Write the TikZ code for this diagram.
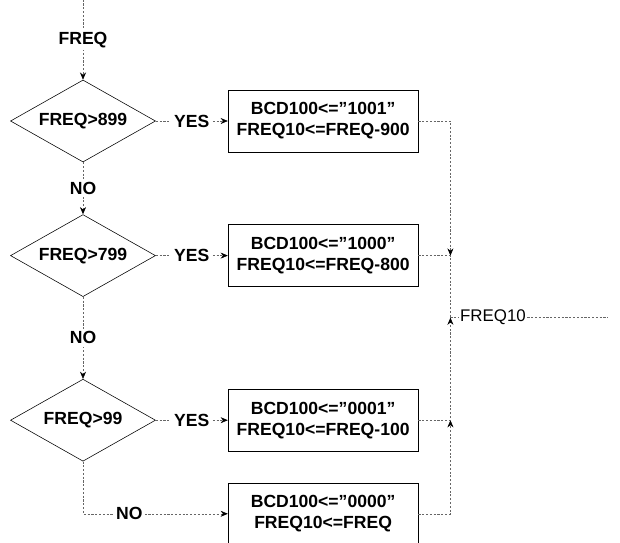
\documentclass[tikz,border=0pt]{standalone}
\usepackage{fontspec}
\setmainfont{Liberation Sans}
\usetikzlibrary{positioning,arrows.meta,shapes.geometric}

\begin{document}
\begin{tikzpicture}[
    x=0.025cm, y=-0.025cm,
    node distance=13mm and 18mm,
    >={Stealth[length=1.8mm,width=1.5mm,color=black]},
    font=\fontsize{12.5}{15}\selectfont\bfseries,
    test/.style={draw, diamond, aspect=1.77, inner sep=0pt, minimum width=36.25mm, minimum height=20.5mm},
    assign/.style={draw, align=center, minimum width=47.5mm, minimum height=15.5mm},
    flow/.style={draw=black!60, dash pattern=on 1.5pt off 1.2pt},
    lbl/.style={fill=white, inner sep=2pt}
]
\useasboundingbox (0,0) rectangle (620,542);

\node[test] (gt899) at (83,121) {FREQ>899};
\node[test, below=of gt899] (gt799) {FREQ>799};
\node[test, below=20.5mm of gt799] (gt99) {FREQ>99};
\node[assign, right=of gt899] (set9) {BCD100<="1001"\\FREQ10<=FREQ-900};
\node[assign, right=of gt799] (set8) {BCD100<="1000"\\FREQ10<=FREQ-800};
\node[assign, right=of gt99] (set1) {BCD100<="0001"\\FREQ10<=FREQ-100};
\node[assign, below=7.75mm of set1] (set0) {BCD100<="0000"\\FREQ10<=FREQ};

% input and the NO chain
\coordinate[above=20mm of gt899.north] (top);
\draw[flow,->] (top) -- node[lbl]{FREQ} (gt899);
\draw[flow,->] (gt899) -- node[lbl]{NO} (gt799);
\draw[flow,->] (gt799) -- node[lbl]{NO} (gt99);
\draw[flow,->] (gt99) |- node[lbl, pos=0.66]{NO} (set0);

\draw[flow,->] (gt899) -- node[lbl]{YES} (set9);
\draw[flow,->] (gt799) -- node[lbl]{YES} (set8);
\draw[flow,->] (gt99) -- node[lbl]{YES} (set1);

% collecting bus on the right
\coordinate[right=8mm of set9.east] (j9);
\coordinate (j8) at (set8.east -| j9);
\coordinate (j1) at (set1.east -| j9);
\coordinate (j0) at (set0.east -| j9);
\coordinate[below=15.5mm of j8] (merge);
\node[right=2mm of merge, inner sep=1pt, font=\fontsize{12}{14}\selectfont] (freq10) {FREQ10};
\coordinate[right=20mm of freq10.east] (out);

\draw[flow,->] (set9) -- (j9) -- (j8);
\draw[flow] (set8) -- (j8) -- (merge);
\draw[flow,->] (set0) -- (j0) -- (j1);
\draw[flow,->] (set1) -- (j1) -- (merge);
\draw[flow] (merge) -- (freq10);
\draw[flow] (freq10) -- (out);
\end{tikzpicture}
\end{document}
